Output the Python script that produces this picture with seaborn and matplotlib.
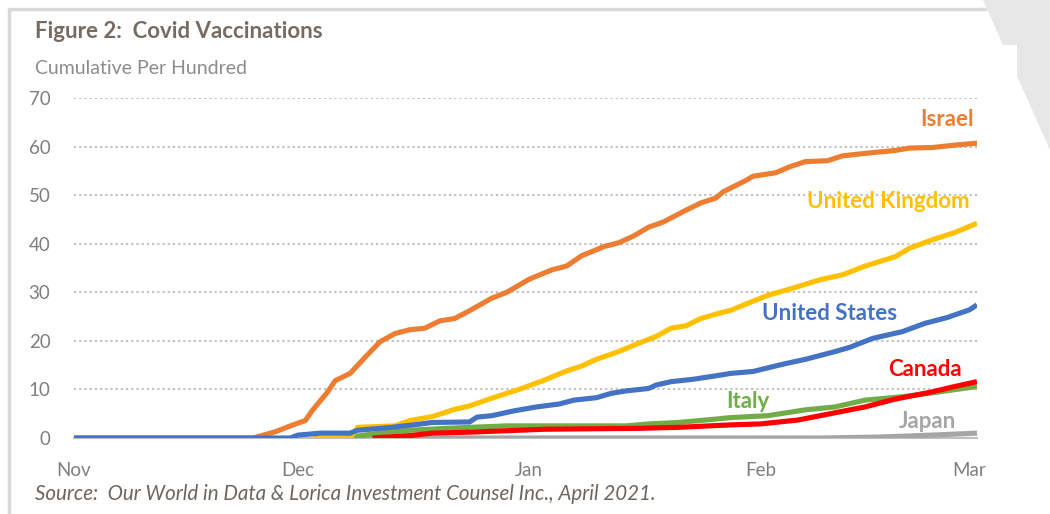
import numpy as np
import pandas as pd
import matplotlib
matplotlib.use("Agg")
import matplotlib.pyplot as plt
import matplotlib.dates as mdates
from matplotlib.patches import Polygon
from matplotlib.lines import Line2D
import seaborn as sns

# ---------------- data (days since 2020-11-01, cumulative per hundred) -------------
start = pd.Timestamp("2020-11-01")

israel_days = [0, 24, 27, 29, 31, 32, 34, 35, 37, 39, 41, 43, 45, 47, 49, 51, 53, 56, 58, 61,
               64, 66, 68, 71, 73, 75, 77, 79, 82, 84, 86, 87, 90, 91, 94, 96, 98, 101, 103,
               106, 110, 112, 115, 118, 121]
israel_vals = [0, 0, 1.3, 2.5, 3.6, 5.8, 9.5, 11.8, 13.3, 16.6, 19.8, 21.5, 22.3, 22.6, 24.1,
               24.6, 26.2, 28.8, 30.0, 32.7, 34.6, 35.4, 37.5, 39.4, 40.2, 41.6, 43.4, 44.5,
               46.9, 48.4, 49.4, 50.7, 53.0, 53.9, 54.6, 55.9, 56.9, 57.1, 58.1, 58.6, 59.2,
               59.7, 59.8, 60.3, 60.7]

uk_days = [32, 37, 38, 43, 45, 48, 51, 53, 56, 59, 60, 63, 66, 68, 70, 73, 75, 78, 80, 82,
           84, 86, 88, 93, 96, 100, 103, 106, 110, 112, 115, 118, 121]
uk_vals = [0, 0, 2.2, 2.5, 3.6, 4.4, 5.9, 6.6, 8.2, 9.7, 10.2, 11.9, 13.8, 14.8, 16.2, 17.8,
           19.1, 20.9, 22.6, 23.1, 24.6, 25.5, 26.3, 29.4, 30.7, 32.6, 33.6, 35.4, 37.3,
           39.1, 40.8, 42.3, 44.2]

us_days = [0, 29, 30, 33, 37, 38, 42, 46, 48, 53, 54, 56, 59, 62, 65, 67, 70, 72, 74, 77,
           78, 80, 83, 86, 88, 91, 95, 98, 102, 104, 107, 111, 114, 117, 120, 121]
us_vals = [0, 0, 0.6, 1.0, 1.0, 1.6, 2.1, 2.8, 3.2, 3.3, 4.3, 4.6, 5.6, 6.4, 7.0, 7.8, 8.3,
           9.2, 9.7, 10.2, 10.9, 11.6, 12.1, 12.8, 13.3, 13.7, 15.2, 16.2, 17.8, 18.7, 20.5,
           21.9, 23.6, 24.8, 26.4, 27.4]

italy_days = [36, 41, 45, 50, 58, 74, 77, 81, 86, 88, 93, 98, 102, 106, 111, 115, 121]
italy_vals = [0, 1.0, 1.6, 2.0, 2.5, 2.5, 2.9, 3.2, 3.9, 4.2, 4.6, 5.8, 6.4, 7.8, 8.5, 9.3, 10.6]

canada_days = [40, 45, 48, 53, 58, 63, 76, 81, 88, 92, 97, 101, 106, 110, 115, 118, 121]
canada_vals = [0, 0.5, 1.0, 1.2, 1.5, 1.8, 2.0, 2.2, 2.7, 2.9, 3.7, 4.9, 6.4, 8.0, 9.5, 10.6, 11.6]

japan_days = [38, 100, 108, 115, 121]
japan_vals = [0, 0, 0.2, 0.6, 1.0]

countries = ["Japan", "Italy", "Canada", "Israel", "United Kingdom", "United States"]
series = {
    "Japan": (japan_days, japan_vals),
    "Italy": (italy_days, italy_vals),
    "Canada": (canada_days, canada_vals),
    "Israel": (israel_days, israel_vals),
    "United Kingdom": (uk_days, uk_vals),
    "United States": (us_days, us_vals),
}
colors = {
    "Israel": "#ED7D31",
    "United Kingdom": "#FFC000",
    "United States": "#4472C4",
    "Canada": "#FF0000",
    "Italy": "#70AD47",
    "Japan": "#A5A5A5",
}

month_ticks = ["2020-11-01", "2020-12-01", "2021-01-01", "2021-02-01", "2021-03-01"]
month_labels = ["Nov", "Dec", "Jan", "Feb", "Mar"]
y_ticks = [0, 10, 20, 30, 40, 50, 60, 70]

rows = []
for c in countries:
    d, v = series[c]
    for dd, vv in zip(d, v):
        rows.append({"date": start + pd.Timedelta(days=dd), "value": vv, "country": c})
df = pd.DataFrame(rows)

# ---------------- figure ----------------
sns.set_theme(style="white")
plt.rcParams["font.family"] = ["Lato", "DejaVu Sans"]

W, H = 1050, 514
fig = plt.figure(figsize=(W / 100, H / 100), dpi=100)
fig.patch.set_facecolor("white")

ax = fig.add_axes([74 / W, 1 - 438 / H, (977 - 74) / W, (438 - 98) / H])

sns.lineplot(data=df, x="date", y="value", hue="country", hue_order=countries,
             palette=colors, linewidth=3.7, legend=False, estimator=None, sort=True, ax=ax)
for ln in ax.get_lines():
    ln.set_solid_capstyle("butt")
    ln.set_solid_joinstyle("round")

ax.set_xlim(start, start + pd.Timedelta(days=121))
ax.set_ylim(0, 70)
ax.set_yticks(y_ticks)
ax.set_yticklabels([str(t) for t in y_ticks])
ax.set_xticks([pd.Timestamp(t) for t in month_ticks])
ax.set_xticklabels(month_labels)
ax.set_xlabel("")
ax.set_ylabel("")

grid_c = "#BFBFBF"
for t in y_ticks[1:]:
    ax.axhline(t, color=grid_c, linewidth=1.5, linestyle=(0, (1.0, 1.5)), zorder=0)

for s in ["top", "right", "left"]:
    ax.spines[s].set_visible(False)
ax.spines["bottom"].set_color("#BFBFBF")
ax.spines["bottom"].set_linewidth(1.5)
ax.spines["bottom"].set_zorder(0)

tick_c = "#7F7F7F"
ax.tick_params(axis="y", length=0, pad=17, labelsize=13.5, labelcolor=tick_c)
ax.tick_params(axis="x", length=6, width=1.2, color="#BFBFBF", direction="out",
               pad=11, labelsize=13.5, labelcolor=tick_c)

# series labels
def lab(day, val, text, color, ha):
    ax.text(start + pd.Timedelta(days=day), val, text, color=color, fontsize=16,
            fontweight="bold", ha=ha, va="center")

lab(120.6, 65.5, "Israel", colors["Israel"], "right")
lab(120.0, 48.6, "United Kingdom", colors["United Kingdom"], "right")
lab(92.2, 25.7, "United States", colors["United States"], "left")
lab(119.0, 14.0, "Canada", colors["Canada"], "right")
lab(87.4, 7.6, "Italy", colors["Italy"], "left")
lab(118.2, 3.3, "Japan", colors["Japan"], "right")

# titles
fig.text(35 / W, 1 - 32 / H, "Figure 2:  Covid Vaccinations", fontsize=16, fontweight="bold",
         color="#776B61", ha="left", va="center")
fig.text(35 / W, 1 - 68 / H, "Cumulative Per Hundred", fontsize=14, color="#8C8C8C",
         ha="left", va="center")
fig.text(35 / W, 1 - 494 / H,
         "Source:  Our World in Data & Lorica Investment Counsel Inc., April 2021.",
         fontsize=14.8, style="italic", color="#6E655E", ha="left", va="center")

# decorative frame
frame_c = "#D9D9D9"
fig.add_artist(Line2D([9 / W, 9 / W], [0, 1 - 9 / H], color=frame_c, linewidth=2.5,
                      transform=fig.transFigure))
fig.add_artist(Line2D([9 / W, 985 / W], [1 - 9 / H, 1 - 9 / H], color=frame_c, linewidth=2.5,
                      transform=fig.transFigure))
poly_px = [(983, 0), (1050, 0), (1050, 150), (1017, 76), (1017, 45), (1003, 45)]
fig.add_artist(Polygon([(x / W, 1 - y / H) for x, y in poly_px], closed=True,
                       facecolor="#E7E7E7", edgecolor="none", transform=fig.transFigure))

fig.savefig("out.png", dpi=100)
